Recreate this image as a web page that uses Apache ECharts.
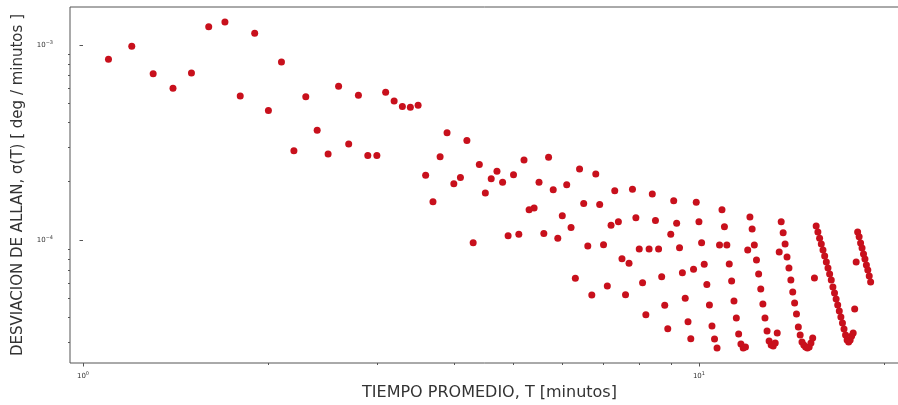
<!DOCTYPE html>
<html>
<head>
<meta charset="utf-8">
<script src="https://cdn.jsdelivr.net/npm/echarts@6/dist/echarts.min.js"></script>
<style>
  html, body { margin: 0; padding: 0; background: #ffffff; }
  #chart { width: 898px; height: 405px; }
</style>
</head>
<body>
<div id="chart"></div>
<script>
// Averaging time T [minutes]
const tau = [
  1.1, 1.2, 1.3, 1.4, 1.5, 1.6, 1.7, 1.8, 1.9, 2.0,
  2.1, 2.2, 2.3, 2.4, 2.5, 2.6, 2.7, 2.8, 2.9, 3.0,
  3.1, 3.2, 3.3, 3.4, 3.5, 3.6, 3.7, 3.8, 3.9, 4.0,
  4.1, 4.2, 4.3, 4.4, 4.5, 4.6, 4.7, 4.8, 4.9, 5.0,
  5.1, 5.2, 5.3, 5.4, 5.5, 5.6, 5.7, 5.8, 5.9, 6.0,
  6.1, 6.2, 6.3, 6.4, 6.5, 6.6, 6.7, 6.8, 6.9, 7.0,
  7.1, 7.2, 7.3, 7.4, 7.5, 7.6, 7.7, 7.8, 7.9, 8.0,
  8.1, 8.2, 8.3, 8.4, 8.5, 8.6, 8.7, 8.8, 8.9, 9.0,
  9.1, 9.2, 9.3, 9.4, 9.5, 9.6, 9.7, 9.8, 9.9, 10.0,
  10.1, 10.2, 10.3, 10.4, 10.5, 10.6, 10.7, 10.8, 10.9, 11.0,
  11.1, 11.2, 11.3, 11.4, 11.5, 11.6, 11.7, 11.8, 11.9, 12.0,
  12.1, 12.2, 12.3, 12.4, 12.5, 12.6, 12.7, 12.8, 12.9, 13.0,
  13.1, 13.2, 13.3, 13.4, 13.5, 13.6, 13.7, 13.8, 13.9, 14.0,
  14.1, 14.2, 14.3, 14.4, 14.5, 14.6, 14.7, 14.8, 14.9, 15.0,
  15.1, 15.2, 15.3, 15.4, 15.5, 15.6, 15.7, 15.8, 15.9, 16.0,
  16.1, 16.2, 16.3, 16.4, 16.5, 16.6, 16.7, 16.8, 16.9, 17.0,
  17.1, 17.2, 17.3, 17.4, 17.5, 17.6, 17.7, 17.8, 17.9, 18.0,
  18.1, 18.2, 18.3, 18.4, 18.5, 18.6, 18.7, 18.8, 18.9, 19.0
];

// Allan deviation sigma(T) [deg / minutes], one value per averaging time
const sigma = [
  8.45e-4, 9.85e-4, 7.12e-4, 6.00e-4, 7.18e-4, 1.24e-3, 1.31e-3, 5.48e-4, 1.15e-3, 4.62e-4,
  8.18e-4, 2.87e-4, 5.43e-4, 3.65e-4, 2.76e-4, 6.14e-4, 3.11e-4, 5.52e-4, 2.71e-4, 2.71e-4,
  5.72e-4, 5.16e-4, 4.83e-4, 4.79e-4, 4.91e-4, 2.15e-4, 1.57e-4, 2.67e-4, 3.55e-4, 1.94e-4,
  2.09e-4, 3.24e-4, 9.69e-5, 2.44e-4, 1.74e-4, 2.06e-4, 2.25e-4, 1.98e-4, 1.05e-4, 2.16e-4,
  1.07e-4, 2.57e-4, 1.43e-4, 1.46e-4, 1.98e-4, 1.08e-4, 2.66e-4, 1.81e-4, 1.02e-4, 1.33e-4,
  1.92e-4, 1.16e-4, 6.36e-5, 2.31e-4, 1.54e-4, 9.32e-5, 5.22e-5, 2.18e-4, 1.52e-4, 9.46e-5,
  5.81e-5, 1.19e-4, 1.79e-4, 1.24e-4, 8.02e-5, 5.24e-5, 7.60e-5, 1.82e-4, 1.30e-4, 8.99e-5,
  6.04e-5, 4.14e-5, 8.99e-5, 1.72e-4, 1.26e-4, 8.99e-5, 6.48e-5, 4.63e-5, 3.51e-5, 1.07e-4,
  1.59e-4, 1.22e-4, 9.13e-5, 6.80e-5, 5.02e-5, 3.81e-5, 3.12e-5, 7.07e-5, 1.56e-4, 1.24e-4,
  9.69e-5, 7.51e-5, 5.91e-5, 4.64e-5, 3.62e-5, 3.11e-5, 2.79e-5, 9.43e-5, 1.43e-4, 1.17e-4,
  9.43e-5, 7.53e-5, 6.16e-5, 4.87e-5, 3.98e-5, 3.30e-5, 2.93e-5, 2.79e-5, 2.83e-5, 8.89e-5,
  1.31e-4, 1.14e-4, 9.43e-5, 7.90e-5, 6.69e-5, 5.61e-5, 4.69e-5, 3.98e-5, 3.41e-5, 3.03e-5,
  2.89e-5, 2.86e-5, 2.96e-5, 3.33e-5, 8.68e-5, 1.24e-4, 1.09e-4, 9.54e-5, 8.18e-5, 7.19e-5,
  6.23e-5, 5.41e-5, 4.75e-5, 4.17e-5, 3.58e-5, 3.26e-5, 3.00e-5, 2.89e-5, 2.83e-5, 2.79e-5,
  2.83e-5, 2.96e-5, 3.14e-5, 6.38e-5, 1.18e-4, 1.10e-4, 1.02e-4, 9.54e-5, 8.89e-5, 8.28e-5,
  7.71e-5, 7.19e-5, 6.69e-5, 6.23e-5, 5.74e-5, 5.35e-5, 4.98e-5, 4.64e-5, 4.32e-5, 4.03e-5,
  3.75e-5, 3.50e-5, 3.26e-5, 3.07e-5, 3.00e-5, 3.07e-5, 3.22e-5, 3.33e-5, 4.43e-5, 7.71e-5,
  1.10e-4, 1.04e-4, 9.65e-5, 9.10e-5, 8.48e-5, 7.99e-5, 7.44e-5, 7.02e-5, 6.54e-5, 6.09e-5
];

// Axis extents and minor tick positions (log scale)
const xRange = [0.9526, 21.93];
const yRange = [2.34e-5, 1.566e-3];
const xMinorTicks = [2, 3, 4, 5, 6, 7, 8, 9, 20];
const yMinorTicks = [3e-5, 4e-5, 5e-5, 6e-5, 7e-5, 8e-5, 9e-5,
                     2e-4, 3e-4, 4e-4, 5e-4, 6e-4, 7e-4, 8e-4, 9e-4];

const xTitle = 'TIEMPO PROMEDIO, T [minutos]';
const yTitle = 'DESVIACION DE ALLAN, \u03c3(T) [ deg / minutos ]';

const FONT = 'DejaVu Sans';
const INK = '#333333';
const FRAME = '#555555';

// "10^n" tick labels drawn as rich text with a raised exponent
function powerLabel(v) {
  const e = Math.log10(v);
  const n = Math.round(e);
  if (Math.abs(e - n) > 1e-6) return '';
  const exp = n < 0 ? '\u2212' + (-n) : String(n);
  return '{b|10}{s|' + exp + '}';
}
const powerRich = {
  b: { fontSize: 7, fontFamily: FONT, color: INK, lineHeight: 10 },
  s: { fontSize: 5, fontFamily: FONT, color: INK, verticalAlign: 'top' }
};

const points = tau.map((t, i) => [t, sigma[i]]);
const log10 = Math.log10;

// plot frame: left edge at 70px, extends slightly past the right edge of the canvas
const frame = { left: 70, top: 7, width: 839, height: 356 };

const chart = echarts.init(document.getElementById('chart'), null, { renderer: 'canvas' });
chart.setOption({
  animation: false,
  backgroundColor: '#ffffff',
  grid: {
    left: frame.left, top: frame.top, width: frame.width, height: frame.height,
    outerBoundsMode: 'none', containLabel: false,
    show: true, borderColor: FRAME, borderWidth: 1, backgroundColor: 'transparent'
  },
  xAxis: [
    {
      type: 'log', logBase: 10, min: xRange[0], max: xRange[1],
      name: xTitle, nameLocation: 'middle', nameGap: 13,
      nameTextStyle: { fontFamily: FONT, fontSize: 16, color: INK },
      axisLine: { show: false },
      axisTick: { show: true, length: 3.5, lineStyle: { color: FRAME } },
      axisLabel: { formatter: powerLabel, rich: powerRich, margin: 8,
                   showMinLabel: false, showMaxLabel: false },
      splitLine: { show: false }
    },
    {
      // minor ticks placed in log10 space
      type: 'value', position: 'bottom',
      min: log10(xRange[0]), max: log10(xRange[1]),
      axisLine: { show: false },
      axisTick: { show: true, length: 2, lineStyle: { color: FRAME },
                  customValues: xMinorTicks.map(log10) },
      axisLabel: { show: false },
      splitLine: { show: false }
    }
  ],
  yAxis: [
    {
      type: 'log', logBase: 10, min: yRange[0], max: yRange[1],
      name: yTitle, nameLocation: 'middle', nameGap: 43, nameRotate: 90,
      nameTextStyle: { fontFamily: FONT, fontSize: 15, color: INK },
      axisLine: { show: false },
      axisTick: { show: true, length: 3.5, lineStyle: { color: FRAME } },
      axisLabel: { formatter: powerLabel, rich: powerRich, margin: 17,
                   showMinLabel: false, showMaxLabel: false },
      splitLine: { show: false }
    },
    {
      type: 'value', position: 'left',
      min: log10(yRange[0]), max: log10(yRange[1]),
      axisLine: { show: false },
      axisTick: { show: true, length: 2, lineStyle: { color: FRAME },
                  customValues: yMinorTicks.map(log10) },
      axisLabel: { show: false },
      splitLine: { show: false }
    }
  ],
  series: [{
    type: 'scatter',
    xAxisIndex: 0, yAxisIndex: 0,
    data: points,
    symbol: 'circle',
    symbolSize: 7,
    itemStyle: { color: '#c8101c', opacity: 1 },
    silent: true
  }]
});
</script>
</body>
</html>
